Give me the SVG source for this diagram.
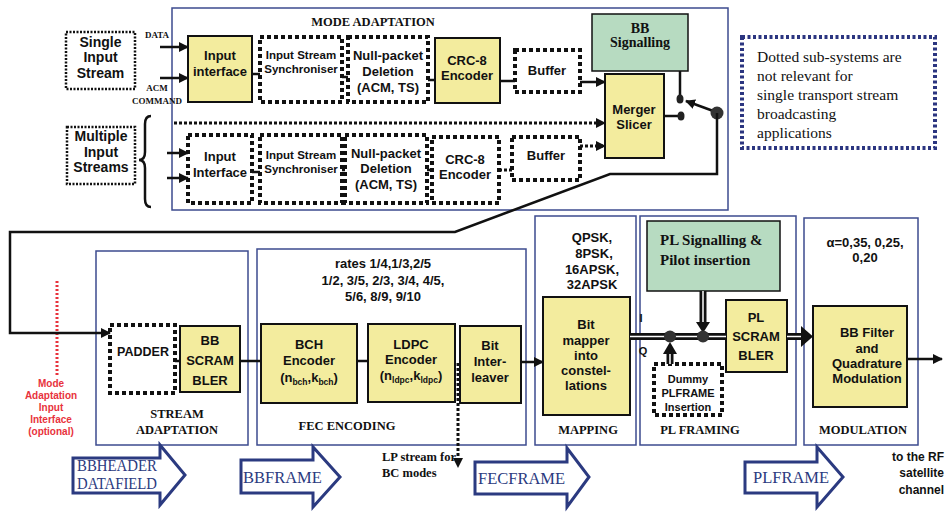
<svg xmlns="http://www.w3.org/2000/svg" width="950" height="513" viewBox="0 0 950 513">
<style>
.sec{fill:none;stroke:#3d4b8f;stroke-width:1.5}
.yel{fill:#f3ec9e;stroke:#111;stroke-width:2}
.grn{fill:#b7dbc1;stroke:#111;stroke-width:1.5}
.dot{fill:#fff;stroke:#111;stroke-width:4;stroke-dasharray:4 3}
.dotthin{fill:#fff;stroke:#111;stroke-width:2.5;stroke-dasharray:2 1.5}
.ln{fill:none;stroke:#111;stroke-width:2.5}
.dl{fill:none;stroke:#111;stroke-width:3;stroke-dasharray:3 2}
.s{font-family:"Liberation Sans",Arial,sans-serif;font-weight:bold;fill:#111;text-anchor:middle}
.t{font-family:"Liberation Serif","Times New Roman",serif;font-weight:bold;fill:#111;text-anchor:middle}
.st{text-anchor:start}
.en{text-anchor:end}
.f13{font-size:13px}
.f11{font-size:11px}
.f10{font-size:11.5px}
.sub{font-size:8.5px}
.red{font-family:"Liberation Sans",Arial,sans-serif;font-weight:bold;font-size:10px;fill:#e8323c;text-anchor:middle}
.big{fill:#fff;stroke:#2b3a80;stroke-width:3}
.bigt{font-family:"Liberation Serif","Times New Roman",serif;font-size:16.5px;fill:#2b3a80}
.leg{font-family:"Liberation Serif","Times New Roman",serif;font-size:15.5px;fill:#111}
</style>
<defs>
<marker id="arr" markerUnits="userSpaceOnUse" markerWidth="10" markerHeight="10" refX="9" refY="5" orient="auto">
<path d="M0,0 L10,5 L0,10 z" fill="#111"/>
</marker>
</defs>
<rect width="950" height="513" fill="#fff"/>

<!-- section frames -->
<g id="mode-adaptation">
<rect class="sec" x="172" y="8" width="556" height="202"/>
<text class="t" x="373" y="26" font-size="12.5">MODE ADAPTATION</text>
</g>
<g id="stream-adaptation">
<rect class="sec" x="96" y="251" width="152" height="194"/>
<text class="t" x="177" y="418" font-size="12.5">STREAM</text>
<text class="t" x="177" y="434" font-size="12.5">ADAPTATION</text>
</g>
<g id="fec-encoding">
<rect class="sec" x="257" y="249" width="269" height="196"/>
<text class="s f13" x="383" y="268">rates 1/4,1/3,2/5</text>
<text class="s f13" x="383" y="285">1/2, 3/5, 2/3, 3/4, 4/5,</text>
<text class="s f13" x="383" y="301">5/6, 8/9, 9/10</text>
<text class="t" x="347" y="430" font-size="12.5">FEC ENCODING</text>
</g>
<g id="mapping">
<rect class="sec" x="535" y="216" width="101" height="229"/>
<text class="s f13" x="592" y="242">QPSK,</text>
<text class="s f13" x="594" y="258">8PSK,</text>
<text class="s f13" x="592" y="274">16APSK,</text>
<text class="s f13" x="592" y="289">32APSK</text>
<text class="t" x="588" y="434" font-size="12.5">MAPPING</text>
</g>
<g id="pl-framing">
<rect class="sec" x="640" y="216" width="156" height="229"/>
<text class="t" x="700" y="434" font-size="12.5">PL FRAMING</text>
</g>
<g id="modulation">
<rect class="sec" x="804" y="218" width="114" height="227"/>
<text class="s f13" x="865" y="247">α=0,35, 0,25,</text>
<text class="s f13" x="865" y="262">0,20</text>
<text class="t" x="863" y="434" font-size="12.5">MODULATION</text>
</g>

<!-- inputs -->
<g id="single-input-stream">
<rect class="dotthin" x="66" y="32" width="69" height="57"/>
<text class="s" font-size="14" x="100.5" y="47">Single</text>
<text class="s" font-size="14" x="100.5" y="62">Input</text>
<text class="s" font-size="14" x="100.5" y="78">Stream</text>
</g>
<g id="multiple-input-streams">
<rect class="dotthin" x="67" y="127" width="68" height="57"/>
<text class="s" font-size="14" x="101" y="141">Multiple</text>
<text class="s" font-size="14" x="101" y="157">Input</text>
<text class="s" font-size="14" x="101" y="172">Streams</text>
<path class="ln" d="M151,116 Q145,116 145,124 L145,152 Q145,160 139,160 Q145,160 145,168 L145,199 Q145,207 151,207"/>
</g>
<g id="labels-data">
<text class="t" x="157" y="38" font-size="9">DATA</text>
<text class="t" x="157" y="91" font-size="9">ACM</text>
<text class="t" x="157" y="104" font-size="9">COMMAND</text>
</g>

<!-- top row -->
<g id="input-interface-1">
<rect class="yel" x="188" y="36" width="64" height="66"/>
<text class="s f13" x="220" y="60">Input</text>
<text class="s f13" x="220" y="76">interface</text>
</g>
<g id="sync-1">
<rect class="dot" x="260" y="37" width="82" height="65"/>
<text class="s f10" x="301" y="59">Input Stream</text>
<text class="s f10" x="301" y="73">Synchroniser</text>
</g>
<g id="null-1">
<rect class="dot" x="348" y="37" width="80" height="65"/>
<text class="s f13" x="388" y="60">Null-packet</text>
<text class="s f13" x="388" y="76">Deletion</text>
<text class="s f13" x="388" y="92">(ACM, TS)</text>
</g>
<g id="crc-1">
<rect class="yel" x="435" y="38" width="65" height="65"/>
<text class="s f13" x="467" y="65">CRC-8</text>
<text class="s f13" x="467" y="80">Encoder</text>
</g>
<g id="buffer-1">
<rect class="dot" x="515" y="50" width="65" height="42"/>
<text class="s f13" x="547" y="75">Buffer</text>
</g>

<!-- bottom row of mode adaptation -->
<g id="input-interface-2">
<rect class="dot" x="188" y="135" width="64" height="68"/>
<text class="s f13" x="220" y="161">Input</text>
<text class="s f13" x="220" y="177">Interface</text>
</g>
<g id="sync-2">
<rect class="dot" x="260" y="135" width="82" height="68"/>
<text class="s f10" x="301" y="159">Input Stream</text>
<text class="s f10" x="301" y="173">Synchroniser</text>
</g>
<g id="null-2">
<rect class="dot" x="345" y="135" width="82" height="68"/>
<text class="s f13" x="386" y="158">Null-packet</text>
<text class="s f13" x="386" y="173">Deletion</text>
<text class="s f13" x="386" y="189">(ACM, TS)</text>
</g>
<g id="crc-2">
<rect class="dot" x="432" y="137" width="67" height="66"/>
<text class="s f13" x="465" y="164">CRC-8</text>
<text class="s f13" x="465" y="179">Encoder</text>
</g>
<g id="buffer-2">
<rect class="dot" x="512" y="137" width="68" height="43"/>
<text class="s f13" x="546" y="160">Buffer</text>
</g>

<g id="bb-signalling">
<rect class="grn" x="592" y="14" width="96" height="57"/>
<text class="t" x="640" y="33" font-size="14">BB</text>
<text class="t" x="640" y="47" font-size="14">Signalling</text>
</g>
<g id="merger-slicer">
<rect class="yel" x="605" y="74" width="59" height="84"/>
<text class="s f13" x="634" y="114">Merger</text>
<text class="s f13" x="634" y="129">Slicer</text>
</g>

<g id="legend">
<rect x="742" y="37" width="193" height="111" fill="none" stroke="#2b3580" stroke-width="4" stroke-dasharray="3 2.5"/>
<text class="leg" x="757" y="62">Dotted sub-systems are</text>
<text class="leg" x="757" y="81">not relevant for</text>
<text class="leg" x="757" y="100">single transport stream</text>
<text class="leg" x="757" y="119">broadcasting</text>
<text class="leg" x="757" y="138">applications</text>
</g>

<!-- lower chain -->
<g id="padder">
<rect class="dot" x="110" y="325" width="65" height="68"/>
<text class="s" font-size="12.5" x="143" y="356">PADDER</text>
</g>
<g id="bb-scrambler">
<rect class="yel" x="180" y="326" width="60" height="66"/>
<text class="s f13" x="210" y="345">BB</text>
<text class="s f13" x="210" y="365">SCRAM</text>
<text class="s f13" x="210" y="385">BLER</text>
</g>
<g id="mode-adaptation-input-interface">
<line x1="57" y1="281" x2="57" y2="375" stroke="#e8323c" stroke-width="3" stroke-dasharray="2 2"/>
<text class="red" x="51" y="387">Mode</text>
<text class="red" x="51" y="399">Adaptation</text>
<text class="red" x="51" y="411">Input</text>
<text class="red" x="51" y="423">Interface</text>
<text class="red" x="51" y="435">(optional)</text>
</g>
<g id="bch">
<rect class="yel" x="261" y="324" width="96" height="79"/>
<text class="s f13" x="309" y="349">BCH</text>
<text class="s f13" x="309" y="365">Encoder</text>
<text class="s f13" x="309" y="382">(n<tspan class="sub" dy="3">bch</tspan><tspan dy="-3">,k</tspan><tspan class="sub" dy="3">bch</tspan><tspan dy="-3">)</tspan></text>
</g>
<g id="ldpc">
<rect class="yel" x="368" y="324" width="87" height="78"/>
<text class="s f13" x="411" y="349">LDPC</text>
<text class="s f13" x="411" y="364">Encoder</text>
<text class="s f13" x="411" y="380">(n<tspan class="sub" dy="3">ldpc</tspan><tspan dy="-3">,k</tspan><tspan class="sub" dy="3">ldpc</tspan><tspan dy="-3">)</tspan></text>
</g>
<g id="interleaver">
<rect class="yel" x="460" y="326" width="61" height="77"/>
<text class="s f13" x="490" y="350">Bit</text>
<text class="s f13" x="490" y="366">Inter-</text>
<text class="s f13" x="490" y="382">leaver</text>
</g>
<g id="lp-stream">
<text class="t st" x="382" y="461" font-size="12.5">LP stream for</text>
<text class="t st" x="382" y="477" font-size="12.5">BC modes</text>
</g>
<g id="bit-mapper">
<rect class="yel" x="543" y="297" width="87" height="118"/>
<text class="s f13" x="586" y="329">Bit</text>
<text class="s f13" x="586" y="345">mapper</text>
<text class="s f13" x="586" y="360">into</text>
<text class="s f13" x="586" y="375">constel-</text>
<text class="s f13" x="586" y="390">lations</text>
</g>
<g id="iq">
<text class="s f11" x="641" y="322">I</text>
<text class="s f11" x="643" y="355">Q</text>
</g>
<g id="pl-signalling">
<rect class="grn" x="647" y="221" width="133" height="70"/>
<text class="t st" x="660" y="245" font-size="15">PL Signalling &amp;</text>
<text class="t st" x="660" y="265" font-size="15">Pilot insertion</text>
</g>
<g id="pl-scrambler">
<rect class="yel" x="726" y="300" width="61" height="72"/>
<text class="s f13" x="756" y="322">PL</text>
<text class="s f13" x="756" y="341">SCRAM</text>
<text class="s f13" x="756" y="360">BLER</text>
</g>
<g id="dummy-plframe">
<rect class="dot" x="654" y="364" width="68" height="51"/>
<text class="s f11" x="688" y="383">Dummy</text>
<text class="s f11" x="688" y="397">PLFRAME</text>
<text class="s f11" x="688" y="411">Insertion</text>
</g>
<g id="bb-filter">
<rect class="yel" x="813" y="306" width="94" height="101"/>
<text class="s f13" x="867" y="337">BB Filter</text>
<text class="s f13" x="867" y="353">and</text>
<text class="s f13" x="867" y="368">Quadrature</text>
<text class="s f13" x="867" y="383">Modulation</text>
</g>
<g id="rf-channel">
<text class="s en" font-size="12" x="944" y="461">to the RF</text>
<text class="s en" font-size="12" x="944" y="477">satellite</text>
<text class="s en" font-size="12" x="944" y="494">channel</text>
</g>

<!-- frame-type arrows -->
<g id="bbheader-datafield">
<path class="big" d="M73,458 L160,458 L160,445 L185,475 L160,505 L160,493 L73,493 Z"/>
<text class="bigt" x="77" y="471" font-size="14" textLength="80" lengthAdjust="spacingAndGlyphs">BBHEADER</text>
<text class="bigt" x="77" y="489" font-size="14" textLength="80" lengthAdjust="spacingAndGlyphs">DATAFIELD</text>
</g>
<g id="bbframe">
<path class="big" d="M241,460 L313,460 L313,447 L340,477 L313,507 L313,493 L241,493 Z"/>
<text class="bigt" x="243" y="483">BBFRAME</text>
</g>
<g id="fecframe">
<path class="big" d="M475,462 L567,462 L567,448 L589,477 L567,507 L567,494 L475,494 Z"/>
<text class="bigt" x="478" y="484">FECFRAME</text>
</g>
<g id="plframe">
<path class="big" d="M745,462 L817,462 L817,447 L843,477 L817,507 L817,493 L745,493 Z"/>
<text class="bigt" x="753" y="483">PLFRAME</text>
</g>

<!-- connectors -->
<g id="connectors">
<line class="ln" x1="160" y1="47" x2="188" y2="47" marker-end="url(#arr)"/>
<line class="ln" x1="160" y1="78" x2="188" y2="78" marker-end="url(#arr)"/>
<line class="ln" x1="167" y1="153" x2="188" y2="153" marker-end="url(#arr)"/>
<line class="ln" x1="167" y1="178" x2="188" y2="178" marker-end="url(#arr)"/>
<line class="ln" x1="252" y1="74" x2="260" y2="74"/>
<line class="ln" x1="342" y1="77" x2="348" y2="77"/>
<line class="ln" x1="428" y1="80" x2="435" y2="80"/>
<line class="ln" x1="500" y1="81" x2="515" y2="81"/>
<line class="ln" x1="580" y1="82" x2="605" y2="82" marker-end="url(#arr)"/>
<line class="ln" x1="252" y1="172" x2="260" y2="172"/>
<line class="ln" x1="342" y1="170" x2="345" y2="170"/>
<line class="ln" x1="427" y1="170" x2="432" y2="170"/>
<line class="dl" x1="499" y1="170" x2="512" y2="170"/>
<line class="dl" x1="580" y1="146" x2="605" y2="146" marker-end="url(#arr)"/>
<line class="dl" x1="174" y1="123" x2="605" y2="123" marker-end="url(#arr)"/>
<!-- switch -->
<line class="ln" x1="680" y1="71" x2="680" y2="96" stroke-width="2"/>
<ellipse cx="680" cy="99" rx="3.5" ry="4.5" fill="#222"/>
<line class="ln" x1="664" y1="116" x2="678" y2="116" stroke-width="2"/>
<ellipse cx="681" cy="116" rx="3.5" ry="4.5" fill="#222"/>
<line class="ln" x1="716" y1="112" x2="686" y2="101" marker-end="url(#arr)"/>
<circle cx="717" cy="113" r="6.5" fill="#333"/>
<polyline class="ln" points="717,113 717,174 610,174 455,232 10,232 10,333 110,333" marker-end="url(#arr)"/>
<!-- lower chain -->
<line class="ln" x1="175" y1="361" x2="180" y2="361"/>
<line class="ln" x1="240" y1="361" x2="261" y2="361"/>
<line class="ln" x1="357" y1="361" x2="368" y2="361"/>
<line class="ln" x1="521" y1="362" x2="543" y2="362" marker-end="url(#arr)"/>
<line class="dl" x1="458" y1="363" x2="458" y2="460"/>
<path d="M453,458 L463,458 L458,468 z" fill="#111"/>
<!-- double lines I/Q -->
<line x1="630" y1="336.5" x2="726" y2="336.5" stroke="#111" stroke-width="7"/>
<line x1="630" y1="336.5" x2="726" y2="336.5" stroke="#fff" stroke-width="1.5"/>
<line x1="787" y1="336.5" x2="803" y2="336.5" stroke="#111" stroke-width="7"/>
<line x1="787" y1="336.5" x2="803" y2="336.5" stroke="#fff" stroke-width="1.5"/>
<path d="M801,326 L813,336.5 L801,347 z" fill="#111"/>
<line x1="703" y1="291" x2="703" y2="324" stroke="#111" stroke-width="7"/>
<line x1="703" y1="291" x2="703" y2="324" stroke="#fff" stroke-width="1.5"/>
<path d="M696,322 L710,322 L703,333 z" fill="#111"/>
<line x1="670" y1="364" x2="670" y2="352" stroke="#111" stroke-width="7"/>
<line x1="670" y1="364" x2="670" y2="352" stroke="#fff" stroke-width="1.5"/>
<path d="M663,354 L677,354 L670,342 z" fill="#111"/>
<circle cx="670" cy="336.5" r="6" fill="#333"/>
<circle cx="703" cy="336.5" r="6" fill="#333"/>
<line class="ln" x1="907" y1="359" x2="942" y2="359" marker-end="url(#arr)"/>
</g>
</svg>
